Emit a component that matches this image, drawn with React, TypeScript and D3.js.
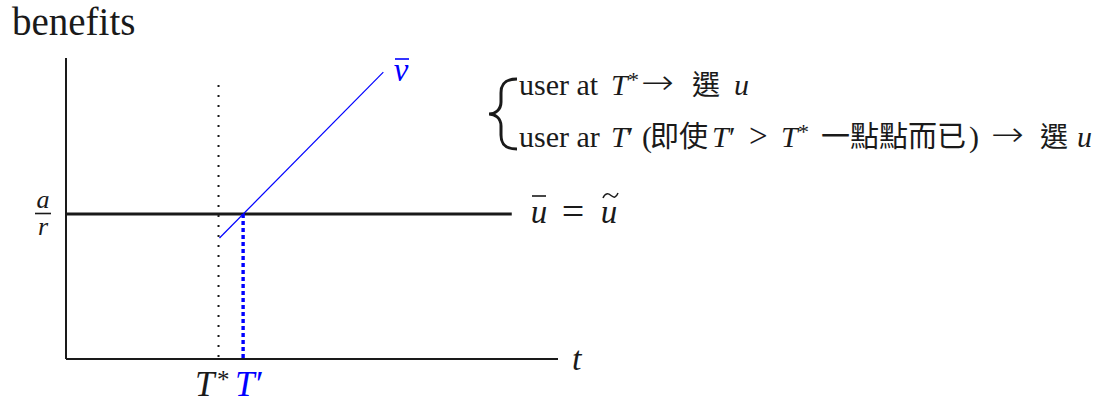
import React from "react";
import * as d3 from "d3";

// Data (abstract units)
const xDomain = [0, 100];
const yDomain = [0, 100];
const tStar = 31;
const tPrime = 36;
const aOverR = 48.2;
const uBarEnd = 90.6;
const xAxisEnd = 100;
const yAxisTop = 100;
const vBarPoints: [number, number][] = [
  [31.2, 40.2],
  [64.5, 95.3],
];
const tStarDotTop = 93.4;

// annotation pieces: [text, kind]
type Kind = "rm" | "it" | "sup" | "cjk" | "arrow" | "rel";
const note1: [string, Kind][] = [
  ["user at", "rm"],
  ["T", "it"],
  ["*", "sup"],
  ["→", "arrow"],
  ["選", "cjk"],
  ["u", "it"],
];
const note1X = [519, 611, 628, 641, 692, 734];
const note2: [string, Kind][] = [
  ["user ar", "rm"],
  ["T", "it"],
  ["′", "rm"],
  ["(", "rm"],
  ["即使", "cjk"],
  ["T", "it"],
  ["′", "rm"],
  [">", "rel"],
  ["T", "it"],
  ["*", "sup"],
  ["一點點而已", "cjk"],
  [")", "rm"],
  ["→", "arrow"],
  ["選", "cjk"],
  ["u", "it"],
];
const note2X = [519, 611, 627, 642, 650, 712, 729, 749, 781, 798, 821, 969, 991, 1040, 1077];

const W = 1097;
const H = 405;

export default function App() {
  const x = d3.scaleLinear().domain(xDomain).range([66, 558]);
  const y = d3.scaleLinear().domain(yDomain).range([359, 58]);
  const line = d3
    .line<[number, number]>()
    .x((d) => x(d[0]))
    .y((d) => y(d[1]));
  const serif = "Liberation Serif, DejaVu Serif, serif";
  const cjk = "Noto Sans CJK TC, Noto Sans CJK SC, sans-serif";
  const blue = "#0000ff";
  const ink = "#1a1a1a";
  // brace geometry
  const tipX = 517;
  const bodyX = 501;
  const midX = 489;
  const by1 = 79;
  const by2 = 149;
  const bm = (by1 + by2) / 2;
  const brace = `M${tipX},${by1} C${bodyX + 4},${by1} ${bodyX},${by1 + 5} ${bodyX},${by1 + 14} L${bodyX},${bm - 12} C${bodyX},${bm - 4} ${midX + 6},${bm} ${midX},${bm} C${midX + 6},${bm} ${bodyX},${bm + 4} ${bodyX},${bm + 12} L${bodyX},${by2 - 14} C${bodyX},${by2 - 5} ${bodyX + 4},${by2} ${tipX},${by2}`;

  const renderNote = (pieces: [string, Kind][], xs: number[], base: number, key: string) =>
    pieces.map(([t, k], i) => {
      const common = { key: key + i, x: xs[i], fill: ink } as any;
      if (k === "rm")
        return (
          <text {...common} y={base} fontFamily={serif} fontSize={30}>
            {t}
          </text>
        );
      if (k === "rel")
        return (
          <text {...common} y={base} fontFamily={serif} fontSize={33}>
            {t}
          </text>
        );
      if (k === "it")
        return (
          <text {...common} y={base} fontFamily={serif} fontStyle="italic" fontSize={30}>
            {t}
          </text>
        );
      if (k === "sup")
        return (
          <text {...common} y={base - 8} fontFamily={serif} fontSize={22}>
            {t}
          </text>
        );
      if (k === "cjk")
        return (
          <text {...common} y={base} fontFamily={cjk} fontSize={t.length === 1 ? 28 : 29}>
            {t}
          </text>
        );
      return (
        <text {...common} y={base - 1} fontFamily="DejaVu Sans, sans-serif" fontSize={34} fontWeight={300} textLength={33} lengthAdjust="spacingAndGlyphs">
          {t}
        </text>
      );
    });

  return (
    <svg
      width={W}
      height={H}
      style={{ position: "absolute", left: 0, top: 0, background: "#fff" }}
    >
      <text x={12} y={35} fontFamily={serif} fontSize={39} fill={ink}>
        benefits
      </text>
      {/* axes */}
      <line x1={x(0)} y1={y(0)} x2={x(0)} y2={y(yAxisTop)} stroke={ink} strokeWidth={2} />
      <line x1={x(0)} y1={y(0)} x2={x(xAxisEnd)} y2={y(0)} stroke={ink} strokeWidth={2} />
      {/* a/r line */}
      <line x1={x(0)} y1={y(aOverR)} x2={x(uBarEnd)} y2={y(aOverR)} stroke={ink} strokeWidth={3} />
      {/* T* dotted */}
      <line
        x1={x(tStar)}
        y1={y(0) - 2}
        x2={x(tStar)}
        y2={y(tStarDotTop)}
        stroke={ink}
        strokeWidth={2}
        strokeDasharray="2 8"
      />
      {/* v bar line */}
      <path d={line(vBarPoints) || ""} stroke={blue} strokeWidth={1.2} fill="none" />
      {/* T' dotted */}
      <line
        x1={x(tPrime)}
        y1={y(aOverR)}
        x2={x(tPrime)}
        y2={y(0)}
        stroke={blue}
        strokeWidth={3.4}
        strokeDasharray="4 3"
      />
      {/* a / r */}
      <text x={43} y={208} textAnchor="middle" fontFamily={serif} fontStyle="italic" fontSize={26} fill={ink}>
        a
      </text>
      <line x1={35} y1={213.5} x2={51} y2={213.5} stroke={ink} strokeWidth={1.6} />
      <text x={43} y={235} textAnchor="middle" fontFamily={serif} fontStyle="italic" fontSize={26} fill={ink}>
        r
      </text>
      {/* v bar label */}
      <text x={401} y={81} textAnchor="middle" fontFamily={serif} fontStyle="italic" fontSize={33} fill={blue}>
        v
      </text>
      <line x1={395} y1={59} x2={409} y2={59} stroke={blue} strokeWidth={1.6} />
      {/* u bar = u tilde */}
      <text x={539} y={223} textAnchor="middle" fontFamily={serif} fontStyle="italic" fontSize={33} fill={ink}>
        u
      </text>
      <line x1={532} y1={196} x2={546} y2={196} stroke={ink} strokeWidth={1.6} />
      <text x={573} y={225} textAnchor="middle" fontFamily={serif} fontSize={40} fill={ink}>
        =
      </text>
      <text x={609} y={223} textAnchor="middle" fontFamily={serif} fontStyle="italic" fontSize={33} fill={ink}>
        u
      </text>
      <path d="M603,198 C605,193 608,193 611,195.5 C614,198 616,198 618,193" stroke={ink} strokeWidth={1.5} fill="none" />
      {/* t label */}
      <text x={572} y={370} fontFamily={serif} fontStyle="italic" fontSize={34} fill={ink}>
        t
      </text>
      {/* T* T' */}
      <text x={195} y={396} fontFamily={serif} fontStyle="italic" fontSize={35} fill={ink}>
        T
      </text>
      <text x={217} y={388} fontFamily={serif} fontSize={25} fill={ink}>
        *
      </text>
      <text x={235} y={396} fontFamily={serif} fontStyle="italic" fontSize={35} fill={blue}>
        T
      </text>
      <text x={256} y={396} fontFamily={serif} fontSize={35} fill={blue}>
        ′
      </text>
      {/* brace + notes */}
      <path d={brace} stroke={ink} strokeWidth={3} fill="none" />
      {renderNote(note1, note1X, 95, "a")}
      {renderNote(note2, note2X, 147, "b")}
    </svg>
  );
}
